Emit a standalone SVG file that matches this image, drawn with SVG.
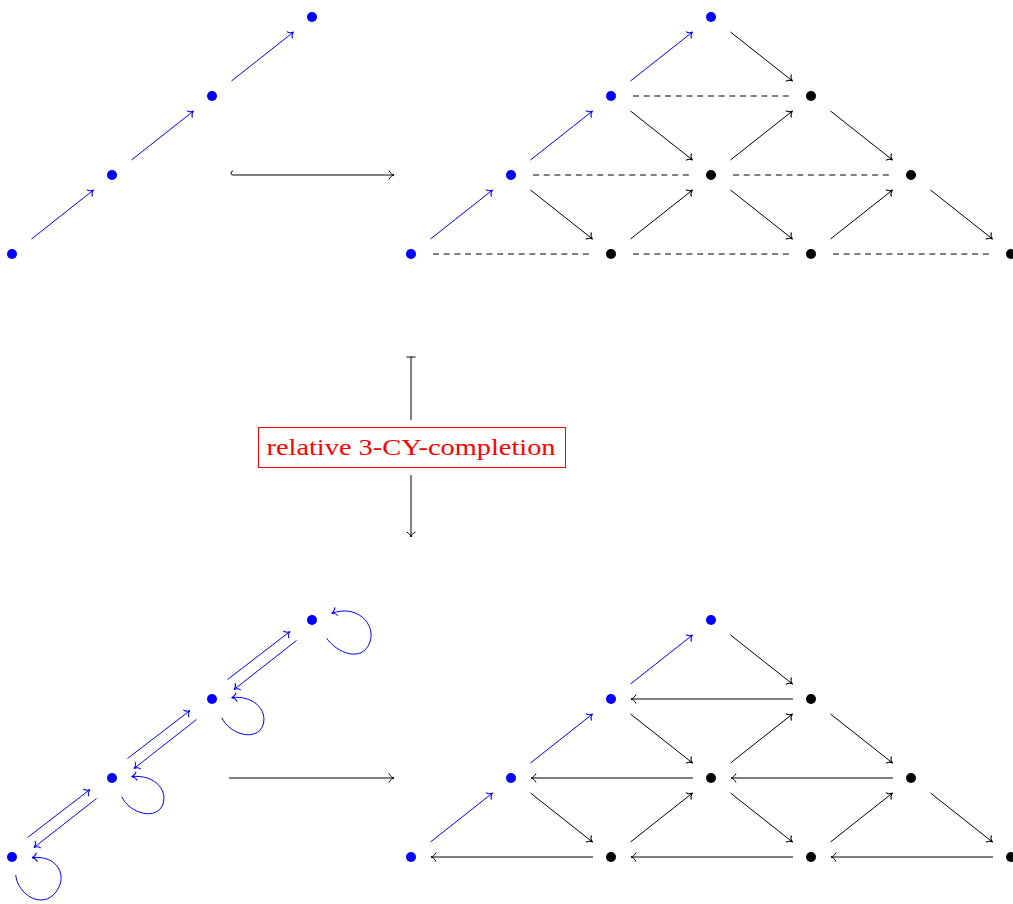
<svg xmlns="http://www.w3.org/2000/svg" width="1013" height="904" viewBox="0 0 1013 904">
<style>
.bn{fill:#0000ff}
.kn{fill:#000}
.b{stroke:#0000ff;stroke-width:1;fill:none;marker-end:url(#ahb)}
.k{stroke:#000;stroke-width:1;fill:none;marker-end:url(#ahk)}
.d{stroke:#000;stroke-width:1;fill:none;stroke-dasharray:6 4.7}
.lbl{font-family:"Liberation Serif",serif;font-size:24px;fill:#ff0000}
</style>
<defs>
<marker id="ahk" markerUnits="userSpaceOnUse" viewBox="-7 -6 8 12" markerWidth="8" markerHeight="12" refX="0" refY="0" orient="auto" overflow="visible">
<path d="M-5,-4.5 C-4,-1.7 -1.2,-0.3 0,0 C-1.2,0.3 -4,1.7 -5,4.5" fill="none" stroke="#000" stroke-width="1"/>
</marker>
<marker id="ahb" markerUnits="userSpaceOnUse" viewBox="-7 -6 8 12" markerWidth="8" markerHeight="12" refX="0" refY="0" orient="auto" overflow="visible">
<path d="M-5,-4.5 C-4,-1.7 -1.2,-0.3 0,0 C-1.2,0.3 -4,1.7 -5,4.5" fill="none" stroke="#0000ff" stroke-width="1"/>
</marker>
</defs>
<rect width="1013" height="904" fill="#fff"/>

<!-- nodes -->
<g id="tl0"><circle class="bn" cx="12" cy="254" r="5"/></g>
<g id="tl1"><circle class="bn" cx="112" cy="175" r="5"/></g>
<g id="tl2"><circle class="bn" cx="212" cy="96" r="5"/></g>
<g id="tl3"><circle class="bn" cx="312" cy="17" r="5"/></g>

<g id="tr0"><circle class="bn" cx="411" cy="254" r="5"/></g>
<g id="tr1"><circle class="bn" cx="511" cy="175" r="5"/></g>
<g id="tr2"><circle class="bn" cx="611" cy="96" r="5"/></g>
<g id="tr3"><circle class="bn" cx="711" cy="17" r="5"/></g>
<g id="tr4"><circle class="kn" cx="811" cy="96" r="5"/></g>
<g id="tr5"><circle class="kn" cx="711" cy="175" r="5"/></g>
<g id="tr6"><circle class="kn" cx="911" cy="175" r="5"/></g>
<g id="tr7"><circle class="kn" cx="611" cy="254" r="5"/></g>
<g id="tr8"><circle class="kn" cx="811" cy="254" r="5"/></g>
<g id="tr9"><circle class="kn" cx="1011" cy="254" r="5"/></g>

<g id="bl0"><circle class="bn" cx="12" cy="857" r="5"/></g>
<g id="bl1"><circle class="bn" cx="112" cy="778" r="5"/></g>
<g id="bl2"><circle class="bn" cx="212" cy="699" r="5"/></g>
<g id="bl3"><circle class="bn" cx="312" cy="620" r="5"/></g>

<g id="br0"><circle class="bn" cx="411" cy="857" r="5"/></g>
<g id="br1"><circle class="bn" cx="511" cy="778" r="5"/></g>
<g id="br2"><circle class="bn" cx="611" cy="699" r="5"/></g>
<g id="br3"><circle class="bn" cx="711" cy="620" r="5"/></g>
<g id="br4"><circle class="kn" cx="811" cy="699" r="5"/></g>
<g id="br5"><circle class="kn" cx="711" cy="778" r="5"/></g>
<g id="br6"><circle class="kn" cx="911" cy="778" r="5"/></g>
<g id="br7"><circle class="kn" cx="611" cy="857" r="5"/></g>
<g id="br8"><circle class="kn" cx="811" cy="857" r="5"/></g>
<g id="br9"><circle class="kn" cx="1011" cy="857" r="5"/></g>

<g id="label">
<rect x="258.5" y="427.5" width="307" height="40" fill="#fff" stroke="#ff0000" stroke-width="1"/>
<text class="lbl" x="411" y="455" text-anchor="middle" textLength="289" lengthAdjust="spacingAndGlyphs">relative 3-CY-completion</text>
</g>

<!-- connectors -->
<g id="connectors">
<!-- top-left -->
<line class="b" x1="31.5" y1="239" x2="93.5" y2="190"/>
<line class="b" x1="131.5" y1="160" x2="193.5" y2="111"/>
<line class="b" x1="231.5" y1="81" x2="293.5" y2="32"/>
<!-- hook arrow -->
<path class="k" d="M233,171 A2,2 0 0 0 233,175 L394,175"/>
<!-- top-right blue -->
<line class="b" x1="430.5" y1="239" x2="492.5" y2="190"/>
<line class="b" x1="530.5" y1="160" x2="592.5" y2="111"/>
<line class="b" x1="630.5" y1="81" x2="692.5" y2="32"/>
<!-- top-right black down -->
<line class="k" x1="730.5" y1="32" x2="792.5" y2="81"/>
<line class="k" x1="630.5" y1="111" x2="692.5" y2="160"/>
<line class="k" x1="830.5" y1="111" x2="892.5" y2="160"/>
<line class="k" x1="530.5" y1="190" x2="592.5" y2="239"/>
<line class="k" x1="730.5" y1="190" x2="792.5" y2="239"/>
<line class="k" x1="930.5" y1="190" x2="992.5" y2="239"/>
<!-- top-right black up -->
<line class="k" x1="630.5" y1="239" x2="692.5" y2="190"/>
<line class="k" x1="830.5" y1="239" x2="892.5" y2="190"/>
<line class="k" x1="730.5" y1="160" x2="792.5" y2="111"/>
<!-- dashed -->
<line class="d" x1="633" y1="96" x2="793" y2="96"/>
<line class="d" x1="533" y1="175" x2="693" y2="175"/>
<line class="d" x1="733" y1="175" x2="893" y2="175"/>
<line class="d" x1="433" y1="254" x2="593" y2="254"/>
<line class="d" x1="633" y1="254" x2="793" y2="254"/>
<line class="d" x1="833" y1="254" x2="993" y2="254"/>
<!-- mapsto -->
<line x1="406.5" y1="357" x2="415.5" y2="357" stroke="#000" stroke-width="1"/>
<line x1="411" y1="357" x2="411" y2="420" stroke="#000" stroke-width="1"/>
<line class="k" x1="411" y1="475" x2="411" y2="537"/>
<!-- bottom-left forward -->
<line class="b" x1="27.5" y1="837.5" x2="90" y2="789.5"/>
<line class="b" x1="127.5" y1="758.5" x2="190" y2="710.5"/>
<line class="b" x1="227.5" y1="679.5" x2="290" y2="631.5"/>
<!-- bottom-left backward -->
<line class="b" x1="96.5" y1="798.5" x2="34" y2="847.5"/>
<line class="b" x1="196.5" y1="719.5" x2="134" y2="768.5"/>
<line class="b" x1="296.5" y1="640.5" x2="234" y2="689.5"/>
<!-- loops -->
<path class="b" d="M15.7,875 C18,897 47,912 59,887 C66,872 55,855 32,857.7"/>
<path class="b" d="M121.7,796.7 C130,814 157,821 163,804 C168,788 152,774 131.7,776.7"/>
<path class="b" d="M221.7,717.7 C230,735 257,742 263,725 C268,709 252,695 231.7,697.7"/>
<path class="b" d="M326.7,638.3 C336,652 362,664 370,642 C376,624 357,604 331.7,613.3"/>
<!-- bottom middle arrow -->
<line class="k" x1="229" y1="778" x2="394" y2="778"/>
<!-- bottom-right blue -->
<line class="b" x1="430.5" y1="842" x2="492.5" y2="793"/>
<line class="b" x1="530.5" y1="763" x2="592.5" y2="714"/>
<line class="b" x1="630.5" y1="684" x2="692.5" y2="635"/>
<!-- bottom-right black down -->
<line class="k" x1="730.5" y1="635" x2="792.5" y2="684"/>
<line class="k" x1="630.5" y1="714" x2="692.5" y2="763"/>
<line class="k" x1="830.5" y1="714" x2="892.5" y2="763"/>
<line class="k" x1="530.5" y1="793" x2="592.5" y2="842"/>
<line class="k" x1="730.5" y1="793" x2="792.5" y2="842"/>
<line class="k" x1="930.5" y1="793" x2="992.5" y2="842"/>
<!-- bottom-right black up -->
<line class="k" x1="630.5" y1="842" x2="692.5" y2="793"/>
<line class="k" x1="830.5" y1="842" x2="892.5" y2="793"/>
<line class="k" x1="730.5" y1="763" x2="792.5" y2="714"/>
<!-- bottom-right leftward -->
<line class="k" x1="793" y1="699" x2="631" y2="699"/>
<line class="k" x1="693" y1="778" x2="531" y2="778"/>
<line class="k" x1="893" y1="778" x2="731" y2="778"/>
<line class="k" x1="593" y1="857" x2="431" y2="857"/>
<line class="k" x1="793" y1="857" x2="631" y2="857"/>
<line class="k" x1="993" y1="857" x2="831" y2="857"/>
</g>
</svg>
